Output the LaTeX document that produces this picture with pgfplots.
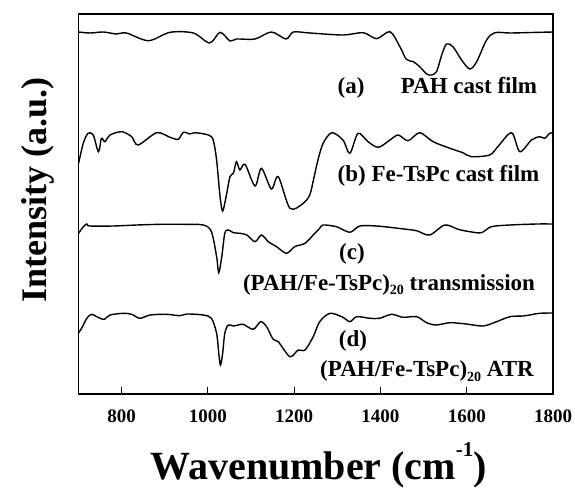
\documentclass[border=0pt]{standalone}
\usepackage{fontspec}
\setmainfont{Liberation Serif}
\usepackage{pgfplots}
\pgfplotsset{compat=1.18}

\newcommand\lab{\fontsize{23}{27}\selectfont\bfseries}
\newcommand\sub[1]{\raisebox{-4.5pt}{\fontsize{14}{14}\selectfont #1}}
\pgfplotsset{spec/.style={black, line width=1.4pt, smooth, tension=0.5, no marks}}

\begin{document}
\begin{tikzpicture}
\path[use as bounding box] (-78.6pt,-94pt) rectangle (496.4pt,394pt);
\begin{axis}[
  at={(0pt,0pt)}, anchor=south west,
  scale only axis, width=474.4pt, height=380pt,
  xmin=700, xmax=1800, ymin=0, ymax=380,
  xtick={800,1000,...,1800}, ytick=\empty,
  xtick pos=bottom, tick align=inside, major tick length=7pt,
  axis line style={line width=1.3pt},
  every tick/.style={black, line width=1pt},
  ticklabel style={font=\fontsize{19}{22}\selectfont\bfseries},
  xticklabel style={yshift=-12pt},
  /pgf/number format/assume math mode=true,
  /pgf/number format/1000 sep={},
]
% (a) PAH cast film
\addplot[spec] coordinates {(700,362) (727,361) (757,362) (788,360) (811,361) (862,353.3) (912,361.7) (966,361)
 (1004,351) (1028,361.7) (1051,353) (1066,355) (1109,355) (1147,362) (1181,355) (1198,362) (1236,361)
 (1313,359) (1360,361.3) (1391,355.3) (1422,362.3) (1445,347.3) (1460,334.7) (1476,332.3) (1491,327.3)
 (1507,320) (1518,319) (1530,322.3) (1542,339) (1553,350) (1568,347.3) (1588,334) (1607,325) (1623,332.3)
 (1646,354) (1665,361.3) (1700,361) (1750,361.5) (1800,362)};
% (b) Fe-TsPc cast film
\addplot[spec] coordinates {(700,230.7) (711,251) (722,260.7) (734,259) (746,242.3) (753,255.7) (761,252.3) (773,259)
 (800,262.3) (823,257.3) (838,249) (881,261.3) (912,256.7) (931,254.7) (943,261.7) (958,260) (970,261.3)
 (1001,259) (1012,254) (1020,234) (1028,197.3) (1034,183) (1042,197.3) (1051,217.3) (1059,220.7) (1066,232.3)
 (1074,224) (1086,229.7) (1109,208) (1124,225.7) (1147,205) (1163,217.3) (1190,185.7) (1221,190.7) (1236,199)
 (1245,215) (1255,234) (1267,250.7) (1287,261.3) (1313,254) (1329,240.7) (1348,260.7) (1371,252.3) (1395,246.7)
 (1422,254) (1441,259) (1464,253.3) (1491,261.3) (1522,252.3) (1561,245.7) (1591,241.3) (1611,237.3) (1653,239)
 (1672,247.3) (1704,261.3) (1723,242.3) (1750,254) (1769,257.3) (1781,255.7) (1792,260.7) (1800,261)};
% (c) (PAH/Fe-TsPc)20 transmission
\addplot[spec] coordinates {(700,160.7) (711,167.3) (719,170) (726,168) (780,168) (835,169) (889,169.7) (943,169.7)
 (989,169) (1008,162.3) (1020,137.3) (1025,121.3) (1032,137.3) (1039,160.7) (1047,164) (1059,161.3) (1074,160.7)
 (1090,159) (1109,152.3) (1124,159) (1140,152.3) (1159,147.3) (1182,140.7) (1201,147.3) (1225,150.7) (1244,159)
 (1259,165.7) (1267,169) (1298,167.3) (1329,161.7) (1352,168) (1391,168) (1429,166.3) (1460,164.7) (1484,163.3)
 (1514,159) (1549,169) (1580,164.7) (1607,162.3) (1634,161.3) (1657,167.3) (1700,169) (1762,170) (1800,170)};
% (d) (PAH/Fe-TsPc)20 ATR
\addplot[spec] coordinates {(700,61.3) (707,65.7) (719,75.7) (730,79.7) (742,77.3) (750,75.7) (760,74.7) (773,79)
 (804,80.7) (823,79.7) (842,75.7) (866,79) (904,79.7) (935,78.3) (951,80) (989,79) (1008,75.7) (1020,60.7)
 (1025,40.7) (1029,29) (1034,40.7) (1039,60.7) (1047,69) (1059,68) (1070,69) (1082,69.7) (1105,64.7) (1122,72.3)
 (1136,67.3) (1151,54.7) (1163,52.3) (1190,37.3) (1209,44) (1225,44) (1244,57.3) (1259,72.3) (1283,80.7)
 (1313,76.7) (1329,72.3) (1345,77.3) (1375,75.7) (1398,75.7) (1426,79.7) (1452,76.7) (1484,77.3) (1507,71.3)
 (1530,69) (1561,71.3) (1599,70) (1638,68) (1669,72.3) (1700,77.3) (1731,78) (1746,79) (1769,80.7) (1800,81)};
\end{axis}
\node[font=\lab, anchor=base] at (272.4pt,300pt) {(a)};
\node[font=\lab, anchor=base] at (390.4pt,300pt) {PAH cast film};
\node[font=\lab, anchor=base] at (359.9pt,212.3pt) {(b) Fe-TsPc cast film};
\node[font=\lab, anchor=base] at (273.4pt,134.7pt) {(c)};
\node[font=\lab, anchor=base] at (310.4pt,104pt) {(PAH/Fe-TsPc)\sub{20} transmission};
\node[font=\lab, anchor=base] at (274.4pt,47.3pt) {(d)};
\node[font=\lab, anchor=base] at (348.4pt,17.3pt) {(PAH/Fe-TsPc)\sub{20} ATR};
\node[font=\fontsize{40}{42}\selectfont\bfseries, anchor=base] at (240pt,-85pt)
  {Wavenumber (cm\raisebox{23pt}{\fontsize{21}{21}\selectfont -1})};
\node[font=\fontsize{36}{40}\selectfont\bfseries, rotate=90, anchor=base] at (-31.6pt,204pt)
  {Intensity (a.u.)};
\end{tikzpicture}
\end{document}
